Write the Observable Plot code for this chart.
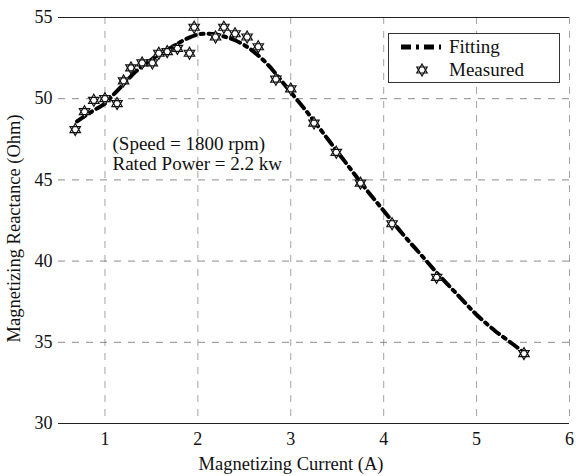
<!DOCTYPE html>
<html>
<head>
<meta charset="utf-8">
<script src="https://cdn.jsdelivr.net/npm/d3@7"></script>
<script src="https://cdn.jsdelivr.net/npm/@observablehq/plot@0.6"></script>
<style>
  html, body { margin: 0; padding: 0; background: #fff; }
  #wrap { position: relative; width: 576px; height: 476px; font-family: 'Liberation Serif', serif; }
  #legend { position: absolute; left: 388px; top: 33px; width: 172px; height: 50px; border: 1px solid #333; background: #fff; box-sizing: border-box; font-size: 19px; font-family: 'Liberation Serif', serif; color: #111; }
  #legend .row { position: absolute; left: 0; height: 22px; display: flex; align-items: center; }
  #legend svg { display: block; }
</style>
</head>
<body>
<div id="wrap"></div>
<script>
// Measured data (star markers)
const measuredCurrent = [0.68, 0.78, 0.88, 1.0, 1.13, 1.20, 1.28, 1.40, 1.51, 1.58, 1.67, 1.78, 1.91, 1.96, 2.19, 2.28, 2.40, 2.53, 2.65, 2.84, 3.0, 3.25, 3.49, 3.75, 4.09, 4.57, 5.51];
const measuredReactance = [48.1, 49.2, 49.9, 50.0, 49.7, 51.1, 51.9, 52.2, 52.2, 52.8, 52.9, 53.1, 52.8, 54.4, 53.8, 54.4, 54.0, 53.8, 53.2, 51.2, 50.6, 48.5, 46.7, 44.8, 42.3, 39.0, 34.3];

// Fitted curve
const fitCurrent = [0.7, 0.8, 0.9, 1.0, 1.1, 1.2, 1.3, 1.4, 1.5, 1.6, 1.7, 1.8, 1.9, 2.0, 2.1, 2.2, 2.3, 2.4, 2.5, 2.6, 2.7, 2.8, 2.9, 3.0, 3.2, 3.4, 3.6, 3.8, 4.0, 4.2, 4.4, 4.6, 4.8, 5.0, 5.2, 5.4, 5.5];
const fitReactance = [48.6, 49.0, 49.35, 49.7, 50.3, 50.9, 51.5, 52.0, 52.4, 52.8, 53.1, 53.45, 53.75, 53.95, 54.0, 53.95, 53.8, 53.6, 53.3, 52.9, 52.4, 51.8, 51.1, 50.4, 49.0, 47.5, 46.0, 44.5, 43.1, 41.7, 40.4, 39.1, 37.9, 36.7, 35.7, 34.85, 34.4];

const xTicks = [1, 2, 3, 4, 5, 6];
const yTicks = [30, 35, 40, 45, 50, 55];

const FONT = "'Liberation Serif', serif";

const measured = measuredCurrent.map((x, i) => ({x, y: measuredReactance[i]}));
const fit = fitCurrent.map((x, i) => ({x, y: fitReactance[i]}));

const hexagram = {
  draw(ctx, size) {
    const r = Math.sqrt(size / Math.PI);
    for (const off of [-90, 90]) {
      for (let k = 0; k < 3; k++) {
        const a = (off + k * 120) * Math.PI / 180;
        const px = r * Math.cos(a), py = r * Math.sin(a);
        if (k === 0) ctx.moveTo(px, py); else ctx.lineTo(px, py);
      }
      ctx.closePath();
    }
  }
};

const chart = Plot.plot({
  width: 576,
  height: 476,
  marginLeft: 58,
  marginRight: 7,
  marginTop: 17,
  marginBottom: 53,
  style: {fontFamily: FONT, fontSize: "16px", color: "#111", background: "#fff"},
  x: {domain: [0.5, 6]},
  y: {domain: [30, 55]},
  marks: [
    Plot.gridX(xTicks, {stroke: "#666", strokeOpacity: 0.6, strokeDasharray: "7,7"}),
    Plot.gridY(yTicks, {stroke: "#666", strokeOpacity: 0.75, strokeDasharray: "7,7"}),
    Plot.ruleY([30, 55], {stroke: "#222", strokeWidth: 1.2}),
    Plot.axisX(xTicks, {tickSize: 0, tickPadding: 9, label: null, fontSize: 18, fontFamily: FONT}),
    Plot.axisY(yTicks, {tickSize: 0, tickPadding: 6, label: null, fontSize: 18, fontFamily: FONT}),
    Plot.text(["Magnetizing Current (A)"], {frameAnchor: "bottom", dy: 46, dx: -23, fontSize: 18.5, fontFamily: FONT}),
    Plot.text(["Magnetizing Reactance (Ohm)"], {frameAnchor: "left", dx: -44, dy: 8, rotate: -90, textAnchor: "middle", fontSize: 18.5, fontFamily: FONT}),
    Plot.text(["(Speed = 1800 rpm)\nRated Power = 2.2 kw"], {frameAnchor: "top-left", dx: 54, dy: 118, textAnchor: "start", lineHeight: 1.07, fontSize: 19, fontFamily: FONT}),
    Plot.line(fit, {x: "x", y: "y", stroke: "#000", strokeWidth: 4, strokeDasharray: "10,5,3,5", curve: "catmull-rom"}),
    Plot.dot(measured, {x: "x", y: "y", symbol: hexagram, r: 6, stroke: "#111", strokeWidth: 1.2, fill: "#fff"})
  ]
});

const wrap = document.getElementById("wrap");
wrap.appendChild(chart);

const legend = document.createElement("div");
legend.id = "legend";
legend.innerHTML = `
  <div class="row" style="top:2px">
    <svg width="60" height="22"><line x1="12" y1="11" x2="52" y2="11" stroke="#000" stroke-width="5" stroke-dasharray="10,5,3,5"/></svg>
    <span>Fitting</span>
  </div>
  <div class="row" style="top:25px">
    <svg width="60" height="22"><path d="${(() => { const p = d3.path(); hexagram.draw(p, 36 * Math.PI); return p.toString(); })()}" transform="translate(33,11)" fill="#fff" stroke="#111" stroke-width="1.2"/></svg>
    <span>Measured</span>
  </div>`;
wrap.appendChild(legend);
</script>
</body>
</html>
